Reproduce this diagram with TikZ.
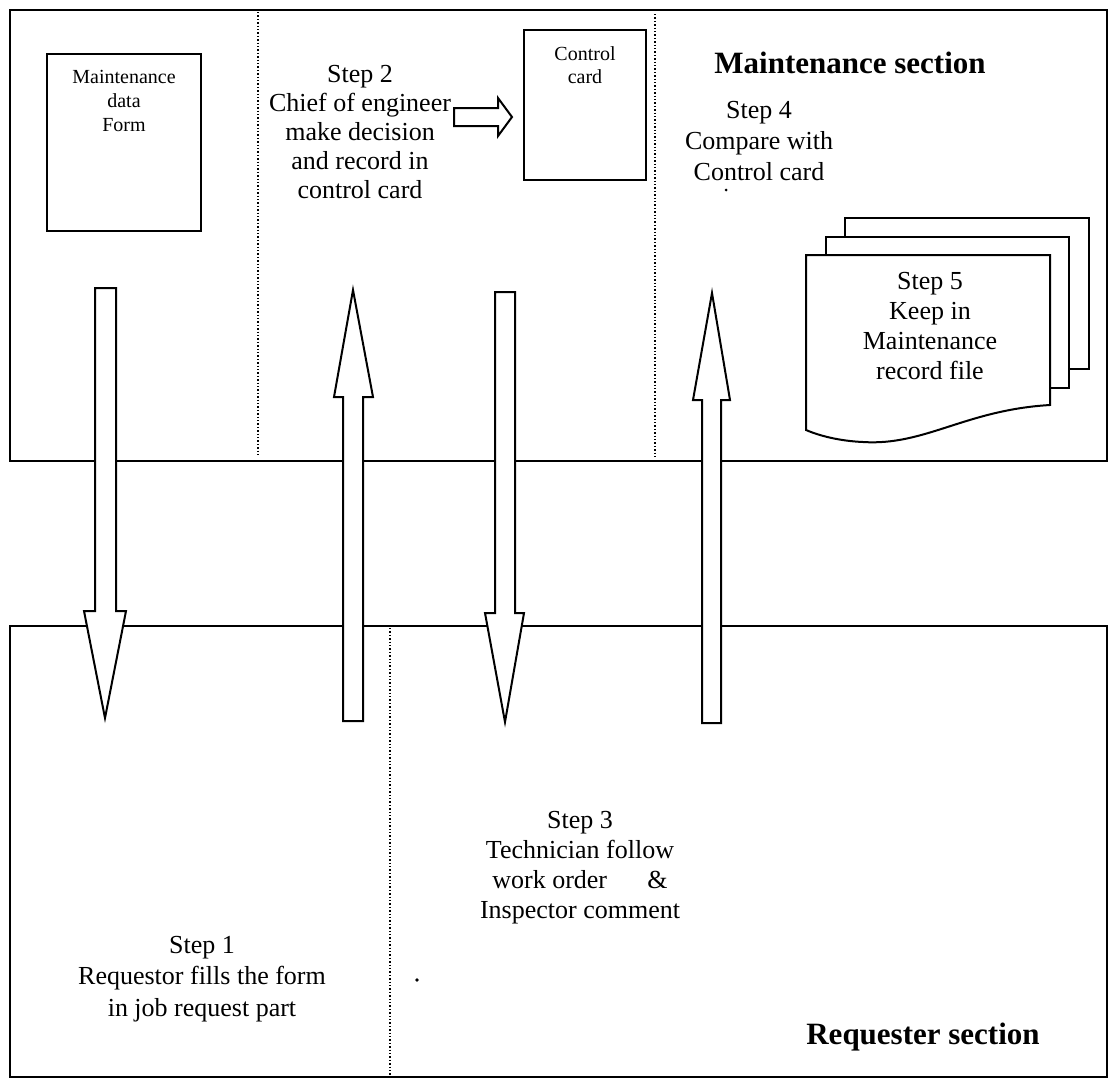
\documentclass[tikz,border=0pt]{standalone}
\usepackage{fontspec}
\setmainfont{Liberation Serif}

\begin{document}
\begin{tikzpicture}[x=0.5pt,y=0.5pt,yscale=-1,
  frame/.style={line width=1pt},
  lane/.style={densely dotted,line width=0.7pt},
  blockarr/.style={draw,line width=1pt,fill=white,line join=miter},
  paper/.style={draw,line width=1pt,fill=white},
  txt/.style={align=center,inner sep=0pt,font=\fontsize{13}{15}\selectfont},
  smalltxt/.style={align=center,inner sep=0pt,font=\fontsize{10}{11.8}\selectfont},
  head/.style={inner sep=0pt,font=\fontsize{15.5}{18}\selectfont\bfseries}]
\useasboundingbox (0,0) rectangle (1111,1082);

%Shape: Rectangle (Maintenance section)
\draw [frame] (10,10) rectangle (1107,461) ;
%Shape: Rectangle (Requester section)
\draw [frame] (10,626) rectangle (1107,1077) ;

%Straight Lines
\draw [lane] (258,12) -- (258,456) ;
%Straight Lines
\draw [lane] (655,14) -- (655,458) ;
%Straight Lines
\draw [lane] (390,628) -- (390,1075) ;

%Shape: Down Arrow
\draw [blockarr] (95,288) -- (116,288) -- (116,611) -- (126,611) -- (105,718) -- (84,611) -- (95,611) -- cycle ;
%Shape: Up Arrow
\draw [blockarr] (343,721) -- (363,721) -- (363,397) -- (373,397) -- (353,290) -- (334,397) -- (343,397) -- cycle ;
%Shape: Down Arrow
\draw [blockarr] (495,292) -- (515,292) -- (515,613) -- (524,613) -- (505,722) -- (485,613) -- (495,613) -- cycle ;
%Shape: Up Arrow
\draw [blockarr] (702,723) -- (721,723) -- (721,400) -- (730,400) -- (712,293) -- (693,400) -- (702,400) -- cycle ;
%Shape: Right Arrow
\draw [blockarr] (454,108) -- (498,108) -- (498,98) -- (512,117) -- (498,136) -- (498,126) -- (454,126) -- cycle ;

%Shape: Rectangle
\draw [frame] (47,54) rectangle (201,231) ;
%Shape: Rectangle
\draw [frame] (524,30) rectangle (646,180) ;

%Shape: Multidocument
\draw [paper] (845,218) rectangle (1089,369) ;
\draw [paper] (826,237) rectangle (1069,388) ;
\draw [paper] (806,255) -- (1050,255) -- (1050,405) .. controls (965,410) and (925,446) .. (863,442) .. controls (840,441) and (820,436) .. (806,430) -- cycle ;

%Shape: Circle
\fill (726,190) circle [radius=1.5] ;
%Shape: Circle
\fill (417,980) circle [radius=1.8] ;

% Text Node
\draw (124,101) node (formtxt) [smalltxt] {Maintenance\\data\\Form};
% Text Node
\draw (585,65) node (cardtxt) [smalltxt] {Control\\card};
% Text Node
\draw (360,132) node (step2) [txt,font=\fontsize{13}{14.6}\selectfont] {Step 2\\Chief of engineer\\make decision\\and record in\\control card};
% Text Node
\draw (850,63) node (mainsec) [head] {Maintenance section};
% Text Node
\draw (759,141) node (step4) [txt,font=\fontsize{13}{15.6}\selectfont] {Step 4\\Compare with\\Control card};
% Text Node
\draw (930,326) node (step5) [txt] {Step 5\\Keep in\\Maintenance\\record file};
% Text Node
\draw (202,979) node (step1) [txt,font=\fontsize{13}{15.7}\selectfont] {Step 1\\Requestor fills the form\\in job request part};
% Text Node
\draw (580,868) node (step3) [txt] {Step 3\\Technician follow\\work order\hspace{1.3em} \&\\Inspector comment};
% Text Node
\draw (923,1037) node (reqsec) [head] {Requester section};

\end{tikzpicture}
\end{document}
